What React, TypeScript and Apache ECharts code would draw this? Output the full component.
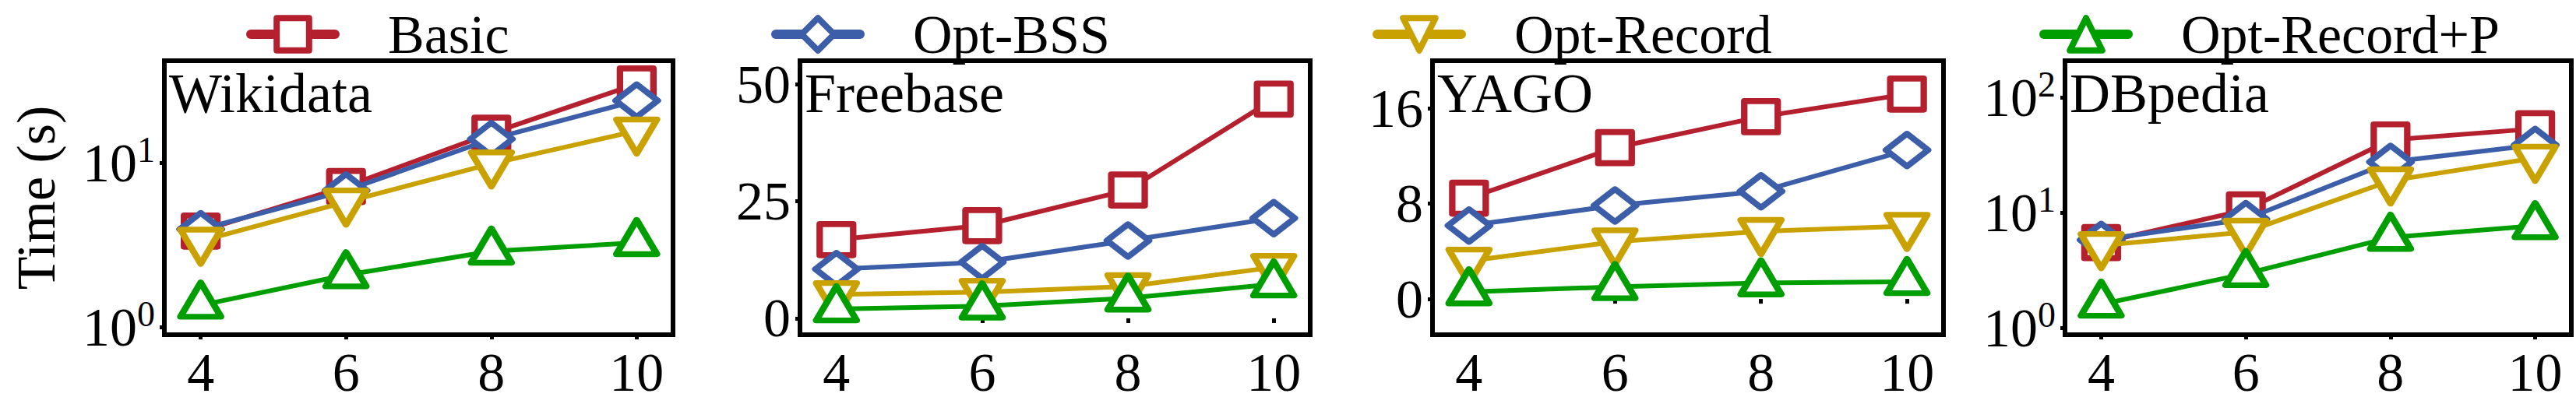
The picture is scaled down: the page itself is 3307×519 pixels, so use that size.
import * as echarts from 'echarts';
import { useEffect, useRef } from 'react';

// x positions (shared by all panels)
const xValues = [4, 6, 8, 10];

const seriesNames = ['Basic', 'Opt-BSS', 'Opt-Record', 'Opt-Record+P'];
const panelTitles = ['Wikidata', 'Freebase', 'YAGO', 'DBpedia'];

// Wikidata (log axis)
const wikidataBasic = [3.85, 7.2, 15.2, 30.3];
const wikidataBss = [3.95, 6.8, 14.0, 24];
const wikidataRecord = [3.35, 5.8, 9.9, 15.7];
const wikidataRecordP = [1.36, 2.08, 2.9, 3.27];

// Freebase
const freebaseBasic = [16.8, 19.8, 27.4, 46.8];
const freebaseBss = [10.5, 12.0, 16.6, 21.4];
const freebaseRecord = [5.1, 5.6, 6.8, 10.9];
const freebaseRecordP = [2.0, 2.6, 4.3, 7.3];

// YAGO
const yagoBasic = [8.46, 12.7, 15.3, 17.2];
const yagoBss = [6.16, 7.85, 9.04, 12.5];
const yagoRecord = [3.19, 4.81, 5.68, 6.11];
const yagoRecordP = [0.59, 1.02, 1.34, 1.45];

// DBpedia (log axis)
const dbpediaBasic = [5.5, 10.6, 43, 53.8];
const dbpediaBss = [5.8, 8.8, 27.7, 38.8];
const dbpediaRecord = [5.2, 6.8, 19.0, 29.9];
const dbpediaRecordP = [1.6, 2.95, 6.1, 7.7];

// y tick values
const wikidataTicks = [1, 10];
const freebaseTicks = [0, 25, 50];
const yagoTicks = [0, 8, 16];
const dbpediaTicks = [1, 10, 100];

const panels = [
  { title: panelTitles[0], values: [wikidataBasic, wikidataBss, wikidataRecord, wikidataRecordP], log: true, min: 0.9, max: 42, ticks: wikidataTicks },
  { title: panelTitles[1], values: [freebaseBasic, freebaseBss, freebaseRecord, freebaseRecordP], log: false, min: -3.5, max: 55, ticks: freebaseTicks },
  { title: panelTitles[2], values: [yagoBasic, yagoBss, yagoRecord, yagoRecordP], log: false, min: -3, max: 20, ticks: yagoTicks },
  { title: panelTitles[3], values: [dbpediaBasic, dbpediaBss, dbpediaRecord, dbpediaRecordP], log: true, min: 0.87, max: 210, ticks: dbpediaTicks }
];

const FONT = 'Liberation Serif';
const COLORS = ['#B5202F', '#3C5DA8', '#C9A100', '#009E00'];
const GRID_LEFT = [211, 1027, 1839, 2651];
const GRID_WIDTH = [653, 655, 656, 650];
const LEGEND_LEFT = [316, 990, 1762, 2618];

const TRI_H = 44;
const symbols = [
  { symbol: 'rect', size: [43, 40], rotate: 0, offset: [0, 0] },
  { symbol: 'diamond', size: [54, 42], rotate: 0, offset: [0, 0] },
  { symbol: 'triangle', size: [52, TRI_H], rotate: 180, offset: [0, TRI_H / 6] },
  { symbol: 'triangle', size: [52, TRI_H], rotate: 0, offset: [0, -TRI_H / 6] }
];

const labelRich = {
  a: { fontSize: 70, lineHeight: 80, fontFamily: FONT, color: '#000' },
  b: { fontSize: 70, lineHeight: 80, fontFamily: FONT, color: '#000' },
  s: { fontSize: 46, lineHeight: 50, fontFamily: FONT, color: '#000', verticalAlign: 'top' }
};

function buildOption() {
  const grid = panels.map((_, i) => ({
    left: GRID_LEFT[i],
    width: GRID_WIDTH[i],
    top: 78,
    height: 352,
    show: true,
    borderColor: '#000',
    borderWidth: 6,
    backgroundColor: 'transparent'
  }));

  const xAxis = panels.map((_, i) => ({
    type: 'value',
    gridIndex: i,
    min: 3.5,
    max: 10.5,
    axisLine: { show: false },
    splitLine: { show: false },
    axisTick: { show: true, length: 6, lineStyle: { color: '#000', width: 5 }, customValues: xValues },
    axisLabel: {
      customValues: xValues,
      margin: 8,
      color: '#000',
      fontSize: 70,
      fontFamily: FONT,
      formatter: (v: number) => `{a|${v}}`,
      rich: labelRich
    }
  }));

  const yAxis = panels.map((p, i) => ({
    type: p.log ? 'log' : 'value',
    logBase: 10,
    gridIndex: i,
    min: p.min,
    max: p.max,
    name: i === 0 ? 'Time (s)' : '',
    nameLocation: 'middle',
    nameGap: 130,
    nameTextStyle: { color: '#000', fontSize: 70, lineHeight: 70, fontFamily: FONT },
    axisLine: { show: false },
    splitLine: { show: false },
    axisTick: { show: true, length: 6, lineStyle: { color: '#000', width: 5 }, customValues: p.ticks },
    axisLabel: {
      customValues: p.ticks,
      margin: 12,
      color: '#000',
      fontSize: 70,
      fontFamily: FONT,
      formatter: p.log ? (v: number) => `{b|10}{s|${Math.round(Math.log10(v))}}` : (v: number) => `{a|${v}}`,
      rich: labelRich
    }
  }));

  const series: any[] = [];
  panels.forEach((p, i) => {
    p.values.forEach((vals, k) => {
      const s = symbols[k];
      series.push({
        type: 'line',
        name: seriesNames[k],
        xAxisIndex: i,
        yAxisIndex: i,
        data: xValues.map((x, j) => [x, vals[j]]),
        symbol: s.symbol,
        symbolSize: s.size,
        symbolRotate: s.rotate,
        symbolOffset: s.offset,
        showAllSymbol: true,
        clip: false,
        z: 2 + k,
        lineStyle: { color: COLORS[k], width: 6 },
        itemStyle: { color: '#fff', borderColor: COLORS[k], borderWidth: 8, borderJoin: 'round' },
        emphasis: { disabled: true }
      });
    });
  });

  const legend = seriesNames.map((name, k) => ({
    data: [name],
    left: LEGEND_LEFT[k],
    top: 9,
    padding: 0,
    itemWidth: 108,
    itemHeight: 52,
    selectedMode: false,
    itemStyle: { color: '#fff', borderColor: COLORS[k], borderWidth: 8 },
    lineStyle: { color: COLORS[k], width: 12, cap: 'round' },
    textStyle: { color: '#000', fontSize: 70, fontFamily: FONT, padding: [0, 0, 0, 63] }
  }));

  const title = panels.map((p, i) => ({
    text: p.title,
    left: GRID_LEFT[i] + 6,
    top: 84,
    padding: 0,
    textStyle: { color: '#000', fontSize: 72, fontWeight: 'normal', fontFamily: FONT }
  }));

  return {
    animation: false,
    backgroundColor: '#fff',
    textStyle: { fontFamily: FONT, color: '#000' },
    title,
    legend,
    grid,
    xAxis,
    yAxis,
    series
  };
}

export default function App() {
  const elRef = useRef<HTMLDivElement | null>(null);

  useEffect(() => {
    document.body.style.margin = '0';
    if (!elRef.current) return;
    const chart = echarts.init(elRef.current, undefined, { renderer: 'svg' });
    chart.setOption(buildOption() as any);
    return () => {
      chart.dispose();
    };
  }, []);

  return <div ref={elRef} style={{ width: 3307, height: 519 }} />;
}
